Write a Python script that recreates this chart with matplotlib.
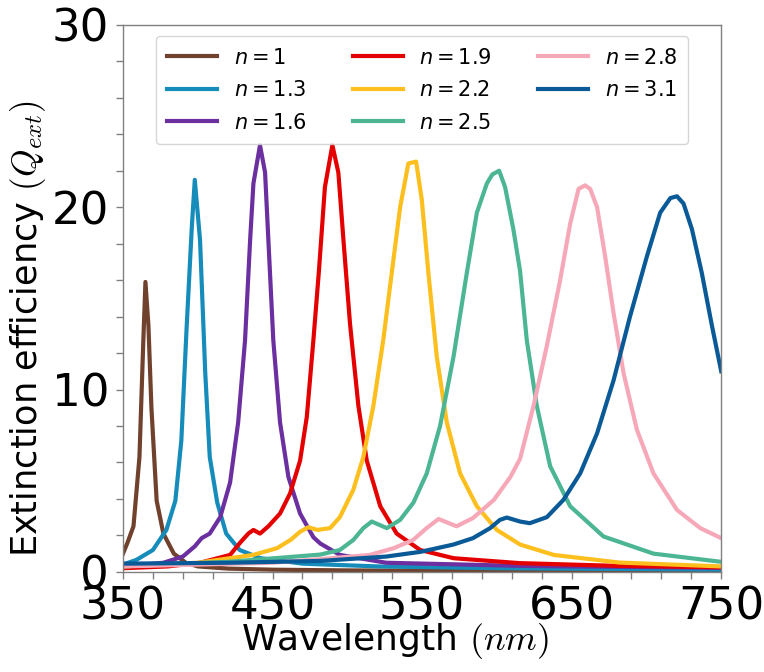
import matplotlib
matplotlib.use("Agg")
import matplotlib.pyplot as plt
import numpy as np

# Wavelength (nm) / extinction efficiency, one pair per n

wl_n1 = [350, 353, 357, 361, 363.6, 365, 367, 369, 372.5, 377, 384, 392, 400, 420, 450, 500, 600, 750]
q_n1 = [1.0, 1.6, 2.5, 6.3, 12.7, 15.9, 13.5, 9.0, 3.9, 2.1, 1.0, 0.5, 0.3, 0.18, 0.12, 0.08, 0.05, 0.03]

wl_n13 = [350, 359, 370, 379, 385, 389, 392.6, 396, 398, 401.5, 405, 408, 413, 419, 428, 442, 470, 520, 600, 750]
q_n13 = [0.4, 0.66, 1.2, 2.3, 3.9, 7.2, 13.5, 18.9, 21.5, 18.2, 10.9, 6.3, 3.8, 2.1, 1.2, 0.75, 0.45, 0.3, 0.2, 0.12]

wl_n16 = [350, 377, 390, 398, 402.6, 408, 415, 421.6, 427, 431.6, 435, 437.2, 441.6, 445, 447.2, 450.5,
          455, 460.6, 468.4, 477.3, 482, 495, 526, 615, 750]
q_n16 = [0.3, 0.5, 0.84, 1.4, 1.85, 2.1, 3.0, 4.9, 8.2, 12.7, 18.2, 21.3, 23.4, 21.9, 18.2, 12.7,
         8.2, 5.2, 3.2, 1.9, 1.55, 0.93, 0.5, 0.33, 0.22]

wl_n19 = [350, 380, 401.5, 421.6, 428.3, 433.8, 437.2, 441.6, 447.2, 455, 461.7, 468.4, 472.9, 477.3, 481,
          485, 490, 494, 497.4, 501.8, 507.4, 513, 522, 533, 548.7, 571, 615, 680, 750]
q_n19 = [0.2, 0.3, 0.5, 0.93, 1.6, 2.1, 2.3, 2.1, 2.5, 3.2, 4.3, 6.1, 8.5, 12.7, 16.5,
         21.1, 23.4, 21.9, 18.2, 13.6, 9.1, 6.1, 3.6, 2.1, 1.2, 0.75, 0.48, 0.33, 0.25]

wl_n22 = [350, 400, 437, 453, 462, 468.4, 474, 480, 488.5, 495, 504, 510.7, 517.4, 524, 529.7, 535.3,
          540.8, 546, 549.8, 554.2, 559.8, 566.5, 575.4, 586.6, 600, 615.5, 638, 682, 750]
q_n22 = [0.3, 0.5, 0.93, 1.3, 1.75, 2.2, 2.45, 2.3, 2.4, 3.0, 4.5, 6.3, 9.1, 12.7, 16.4, 20.0,
         22.4, 22.5, 20.4, 16.4, 11.8, 8.2, 5.4, 3.6, 2.3, 1.5, 0.93, 0.51, 0.3]

wl_n25 = [350, 420, 447, 482, 495, 504, 510.7, 516.3, 526.4, 535.3, 544.2, 553.1, 562, 571, 579.9, 586.6,
          593.3, 597, 601.5, 605.5, 611, 615.5, 620, 626.7, 635.6, 649, 671.3, 704.7, 750]
q_n25 = [0.3, 0.55, 0.72, 0.95, 1.2, 1.75, 2.4, 2.76, 2.4, 2.85, 3.8, 5.4, 8.0, 11.8, 16.4, 19.7,
         21.3, 21.8, 22.0, 21.1, 18.8, 16.5, 12.7, 9.1, 5.8, 3.6, 1.94, 1.0, 0.55]

wl_n28 = [350, 450, 482, 515, 531, 544, 553, 561, 573, 584, 598, 609, 615.5, 624.5, 633.4, 642.3, 649,
          654.6, 659, 662.4, 667, 672.4, 678, 684.7, 693.6, 704.7, 720.4, 736, 750]
q_n28 = [0.3, 0.5, 0.7, 0.93, 1.3, 1.75, 2.4, 2.9, 2.5, 2.95, 3.95, 5.2, 6.2, 9.1, 12.4, 16.0, 19.1,
         21.0, 21.2, 21.0, 20.0, 17.3, 14.2, 10.9, 7.8, 5.4, 3.4, 2.4, 1.85]

wl_n31 = [350, 420, 482, 526, 549, 571, 584, 595.5, 602, 606.6, 615.5, 622, 633.4, 644.5, 655.7, 667,
          678, 689, 700.3, 709.2, 716, 720.4, 724.8, 730.4, 737, 743.8, 750]
q_n31 = [0.45, 0.5, 0.6, 0.84, 1.1, 1.5, 1.85, 2.4, 2.85, 2.98, 2.76, 2.67, 3.0, 3.95, 5.4, 7.6,
         10.5, 14.0, 17.3, 19.7, 20.5, 20.6, 20.2, 18.8, 16.4, 13.5, 11.0]

labels = ['$n = 1$', '$n = 1.3$', '$n = 1.6$', '$n = 1.9$', '$n = 2.2$', '$n = 2.5$', '$n = 2.8$', '$n = 3.1$']
colors = ['#70412c', '#168cba', '#6b2fa0', '#e50000', '#fdbf1e', '#4bb594', '#f7a8b8', '#0a5a97']
series = [(wl_n1, q_n1), (wl_n13, q_n13), (wl_n16, q_n16), (wl_n19, q_n19),
          (wl_n22, q_n22), (wl_n25, q_n25), (wl_n28, q_n28), (wl_n31, q_n31)]

fig = plt.figure(figsize=(7.64, 6.72), dpi=100)
ax = fig.add_axes([0.161, 0.149, 0.783, 0.814])

for (x, y), lab, c in zip(series, labels, colors):
    ax.plot(x, y, color=c, lw=3, label=lab)

ax.set_xlim(350, 750)
ax.set_ylim(0, 30)
ax.set_xticks([350, 450, 550, 650, 750])
ax.set_xticks(np.arange(350, 751, 20), minor=True)
ax.set_yticks([0, 10, 20, 30])
ax.set_yticks(np.arange(0, 31, 2), minor=True)
ax.tick_params(which='both', direction='out', length=5, width=1, color='#808080',
               labelsize=32.5, pad=5)
for s in ax.spines.values():
    s.set_color('#808080')
    s.set_linewidth(1)

xl = ax.set_xlabel(r'Wavelength $(nm)$', fontsize=26)
yl = ax.set_ylabel(r'Extinction efficiency $(Q_{ext})$', fontsize=25.3)
xl.set_math_fontfamily('cm')
yl.set_math_fontfamily('cm')
ax.xaxis.set_label_coords(0.455, -0.09)
ax.yaxis.set_label_coords(-0.125, 0.445)

ax.legend(loc='upper center', ncol=3, fontsize=15, handlelength=2.4, columnspacing=2.2,
          borderaxespad=0.55, labelspacing=0.6, borderpad=0.55)

fig.savefig('out.png', dpi=100)
